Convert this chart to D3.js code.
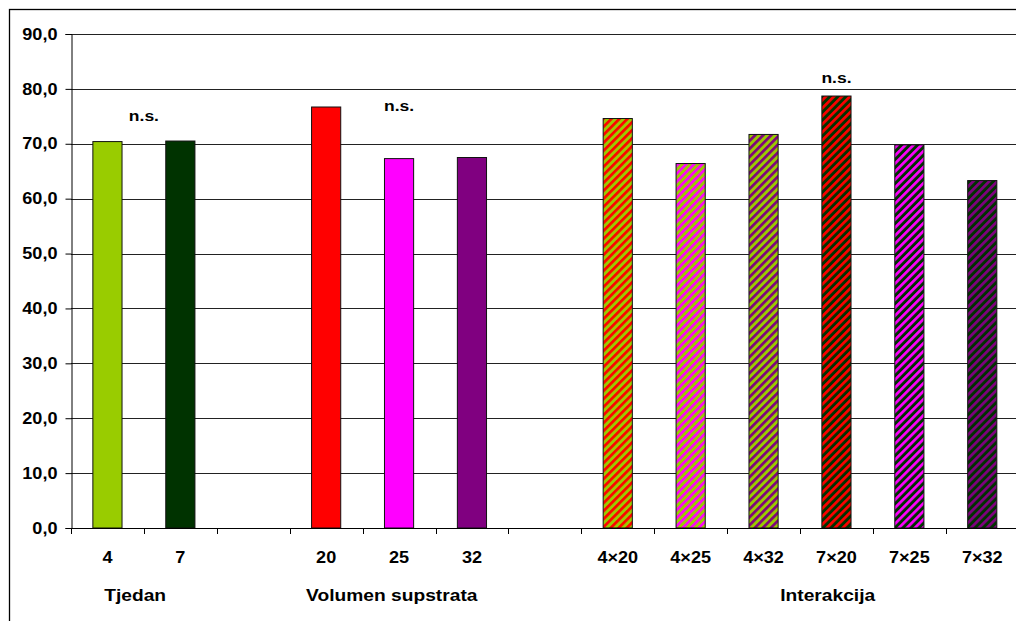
<!DOCTYPE html>
<html>
<head>
<meta charset="utf-8">
<script src="https://cdn.jsdelivr.net/npm/d3@7"></script>
<style>
  body { margin: 0; background: #fff; }
  text { font-family: "Liberation Sans", Arial, sans-serif; font-weight: bold; fill: #000; }
</style>
</head>
<body>
<div id="chart"></div>
<script>
// categories, in order (empty strings are the gaps between groups)
var categories = ["4", "7", "", "20", "25", "32", "", "4×20", "4×25", "4×32", "7×20", "7×25", "7×32"];
var values = [70.4, 70.5, null, 76.7, 67.3, 67.5, null, 74.6, 66.4, 71.7, 78.7, 69.8, 63.3];
var baseColors = ["#99cc00", "#003300", null, "#ff0000", "#ff00ff", "#800080", null,
                  "#99cc00", "#99cc00", "#99cc00", "#003300", "#003300", "#003300"];
var stripeColors = [null, null, null, null, null, null, null,
                    "#ff0000", "#ff00ff", "#800080", "#ff0000", "#ff00ff", "#800080"];
var yTicks = [0, 10, 20, 30, 40, 50, 60, 70, 80, 90];
var groupTitles = ["Tjedan", "Volumen supstrata", "Interakcija"];
var nsLabels = ["n.s.", "n.s.", "n.s."];

var W = 1016, H = 621;
var mLeft = 71, mTop = 34, mBottom = 528;
var stretch = 1.13; // text looks horizontally stretched in the original

var svg = d3.select("#chart").append("svg")
	.attr("width", W)
	.attr("height", H);

var defs = svg.append("defs");

// outer frame
svg.append("rect")
	.attr("x", 9.5).attr("y", 9.5)
	.attr("width", W + 10).attr("height", H + 10)
	.attr("fill", "#fff")
	.attr("stroke", "#000")
	.attr("stroke-width", 1.3);

var x = d3.scaleBand()
	.domain(d3.range(categories.length))
	.range([mLeft, mLeft + 72.9 * categories.length])
	.padding(0);

var y = d3.scaleLinear()
	.domain([0, 90])
	.range([mBottom, mTop]);

// gridlines
svg.append("g").selectAll("line")
	.data(yTicks.slice(1))
	.enter().append("line")
	.attr("x1", mLeft).attr("x2", W)
	.attr("y1", function(d){ return Math.round(y(d)) + 0.5; })
	.attr("y2", function(d){ return Math.round(y(d)) + 0.5; })
	.attr("stroke", "#222")
	.attr("stroke-width", 1);

// hatch patterns
categories.forEach(function(c, i){
	if (!stripeColors[i]) return;
	var p = defs.append("pattern")
		.attr("id", "hatch" + i)
		.attr("patternUnits", "userSpaceOnUse")
		.attr("width", 5.66).attr("height", 5.66)
		.attr("patternTransform", "rotate(45)");
	p.append("rect").attr("width", 5.66).attr("height", 5.66).attr("fill", baseColors[i]);
	p.append("rect").attr("width", 2.7).attr("height", 5.66).attr("fill", stripeColors[i]);
});

// bars
var bw = x.bandwidth() * 0.4;
svg.append("g").selectAll("rect")
	.data(values.map(function(v, i){ return {i: i, v: v}; }).filter(function(d){ return d.v != null; }))
	.enter().append("rect")
	.attr("x", function(d){ return x(d.i) + (x.bandwidth() - bw) / 2; })
	.attr("y", function(d){ return y(d.v); })
	.attr("width", bw)
	.attr("height", function(d){ return y(0) - y(d.v); })
	.attr("fill", function(d){ return stripeColors[d.i] ? "url(#hatch" + d.i + ")" : baseColors[d.i]; })
	.attr("stroke", "#111")
	.attr("stroke-width", 1);

// axes
var yAxis = d3.axisLeft(y)
	.tickValues(yTicks)
	.tickSize(6)
	.tickFormat(function(d){ return d3.format(".1f")(d).replace(".", ","); });

var gy = svg.append("g")
	.attr("transform", "translate(" + (mLeft + 0.5) + ",0)")
	.call(yAxis);
gy.select(".domain").attr("stroke", "#000");
gy.selectAll(".tick line").attr("stroke", "#000");
gy.selectAll(".tick text")
	.attr("x", null)
	.attr("dy", null)
	.attr("transform", "translate(-14,0) scale(" + stretch + ",1)")
	.attr("dominant-baseline", "central")
	.style("font-size", "16px")
	.style("font-family", "'Liberation Sans', Arial, sans-serif")
	.style("font-weight", "bold");

// x axis: ticks at category boundaries
var boundaries = d3.range(categories.length + 1).map(function(i){ return mLeft + i * x.bandwidth(); });
var gx = svg.append("g");
gx.append("line")
	.attr("x1", mLeft).attr("x2", W)
	.attr("y1", mBottom + 0.5).attr("y2", mBottom + 0.5)
	.attr("stroke", "#000");
gx.selectAll(".bt")
	.data(boundaries)
	.enter().append("line")
	.attr("class", "bt")
	.attr("x1", function(d){ return Math.round(d) + 0.5; })
	.attr("x2", function(d){ return Math.round(d) + 0.5; })
	.attr("y1", mBottom).attr("y2", mBottom + 6)
	.attr("stroke", "#000");

gx.selectAll(".cl")
	.data(categories)
	.enter().append("text")
	.attr("class", "cl")
	.attr("text-anchor", "middle")
	.attr("transform", function(d, i){
		return "translate(" + (x(i) + x.bandwidth() / 2) + "," + 563 + ") scale(" + stretch + ",1)";
	})
	.style("font-size", "16px")
	.text(function(d){ return d; });

// group titles (placed under their groups, like the original)
var titleAt = [0.88, 4.4, 10.38];
svg.selectAll(".gt")
	.data(groupTitles)
	.enter().append("text")
	.attr("class", "gt")
	.attr("text-anchor", "middle")
	.attr("transform", function(d, i){
		return "translate(" + (mLeft + titleAt[i] * x.bandwidth()) + "," + 601 + ") scale(" + stretch + ",1)";
	})
	.style("font-size", "17px")
	.text(function(d){ return d; });

// n.s. marks
var nsAt = [1, 4.5, 10.5];
var nsLevel = [75.2, 76.9, 82];
svg.selectAll(".ns")
	.data(nsLabels)
	.enter().append("text")
	.attr("class", "ns")
	.attr("text-anchor", "middle")
	.attr("transform", function(d, i){
		return "translate(" + (mLeft + nsAt[i] * x.bandwidth()) + "," + (y(nsLevel[i]) + 5.5) + ") scale(" + stretch + ",1)";
	})
	.style("font-size", "15.5px")
	.text(function(d){ return d; });
</script>
</body>
</html>
